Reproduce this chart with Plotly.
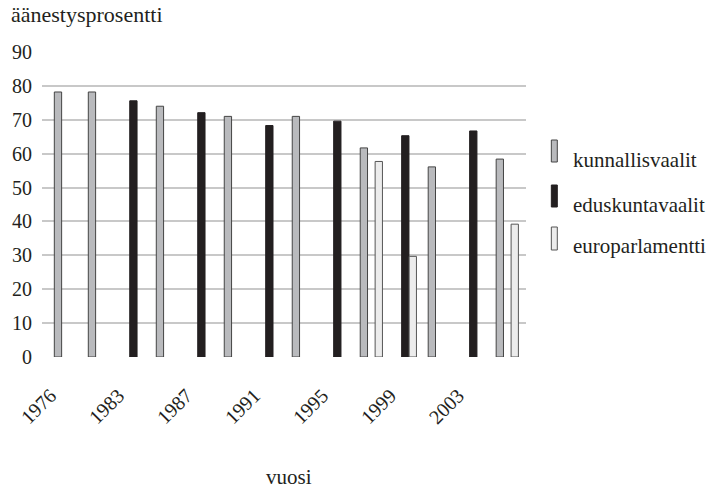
import plotly.graph_objects as go

# Turnout (%) in Finnish elections by year
years = ["1976", "1980", "1983", "1984", "1987", "1988", "1991",
         "1992", "1995", "1996", "1999", "2000", "2003", "2004"]
kunnallisvaalit = [78.2, 78.2, None, 74.0, None, 71.0, None,
                   71.0, None, 61.7, None, 56.1, None, 58.4]
eduskuntavaalit = [None, None, 75.6, None, 72.1, None, 68.3,
                   None, 69.6, None, 65.3, None, 66.7, None]
europarlamentti = [None, None, None, None, None, None, None,
                   None, None, 57.7, 29.7, None, None, 39.2]
series_names = ["kunnallisvaalit", "eduskuntavaalit", "europarlamentti"]
tick_labels = years[::2]

FONT = "Liberation Serif"
TXT = "#231f20"
W, H = 713, 489
L, R, T, B = 39, 187, 52, 132
PW, PH = W - L - R, H - T - B

fills = ["#b9babd", "#231f20", "#ececec"]
lines = ["#444444", "#231f20", "#555555"]
bar_w = 0.215
offsets = [0.0, 0.219, 0.439]

idx = list(range(len(years)))
fig = go.Figure()
for name, vals, fc, lc, off in zip(series_names,
                                   [kunnallisvaalit, eduskuntavaalit, europarlamentti],
                                   fills, lines, offsets):
    xs = [i for i, v in zip(idx, vals) if v is not None]
    ys = [v for v in vals if v is not None]
    fig.add_trace(go.Bar(
        x=xs, y=ys, name=name, width=bar_w, offset=off - bar_w / 2,
        marker=dict(color=fc, line=dict(color=lc, width=1)),
        showlegend=False,
    ))


def px(xp):
    return (xp - L) / PW


def py(yp):
    return (H - B - yp) / PH


# hand-drawn legend: tall narrow swatches with labels
shapes = []
annotations = []
legend_rows = [(140, 162, 160), (185, 207, 205), (227, 250, 246)]
for name, fc, lc, (y0, y1, ty) in zip(series_names, fills, lines, legend_rows):
    shapes.append(dict(type="rect", xref="paper", yref="paper",
                       x0=px(551.5), x1=px(557.5), y0=py(y1), y1=py(y0),
                       fillcolor=fc, line=dict(color=lc, width=1)))
    annotations.append(dict(text=name, xref="paper", yref="paper",
                            x=px(571), y=py(ty), xanchor="left", yanchor="middle",
                            showarrow=False, font=dict(family=FONT, size=21, color=TXT)))

annotations.append(dict(text="äänestysprosentti", xref="paper", yref="paper",
                        x=px(6), y=py(15), xanchor="left", yanchor="middle",
                        showarrow=False, font=dict(family=FONT, size=22, color=TXT)))
annotations.append(dict(text="vuosi", xref="paper", yref="paper",
                        x=px(288), y=py(477), xanchor="center", yanchor="middle",
                        showarrow=False, font=dict(family=FONT, size=21, color=TXT)))

fig.update_layout(
    width=W, height=H,
    margin=dict(l=L, r=R, t=T, b=B, pad=0),
    paper_bgcolor="white", plot_bgcolor="white",
    barmode="overlay",
    shapes=shapes, annotations=annotations,
    xaxis=dict(range=[-0.47, 13.77], tickmode="array",
               tickvals=[i - 0.22 for i in idx[::2]],
               ticktext=tick_labels, tickangle=-45, showgrid=False,
               zeroline=False, showline=False, ticks="", ticklabelstandoff=22,
               tickfont=dict(family=FONT, size=20, color=TXT)),
    yaxis=dict(range=[0, 90], dtick=10, showgrid=True, gridcolor="#c8c8c8",
               gridwidth=1.5, zeroline=False, showline=False, ticks="",
               ticklabelstandoff=9,
               tickfont=dict(family=FONT, size=20, color=TXT)),
)

fig.write_html("out.html")
